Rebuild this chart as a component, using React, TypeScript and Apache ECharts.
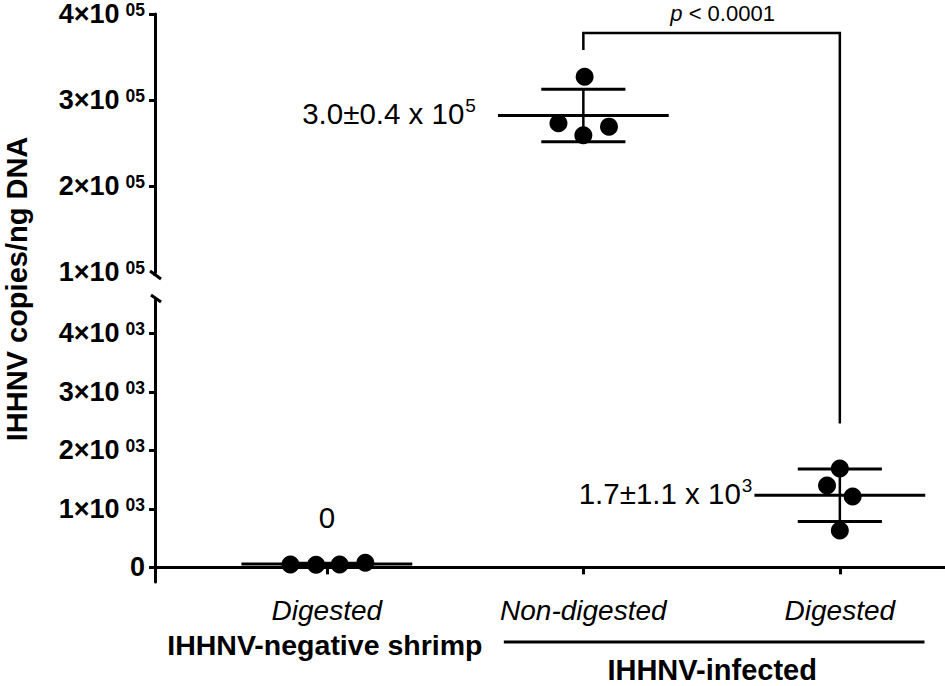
import React, { useEffect, useRef } from "react";
import * as echarts from "echarts";

// ---------- data ----------
const categories = ["Digested", "Non-digested", "Digested"];
const groupTitles = ["IHHNV-negative shrimp", "IHHNV-infected"];
const yAxisTitle = "IHHNV copies/ng DNA";

// IHHNV copies/ng DNA, one value per shrimp
const negDigested = [50, 45, 50, 80];
const infNonDigested = [327000, 273000, 259000, 269000];
const infDigested = [1690, 1400, 1210, 630];

// horizontal scatter of each dot, in category units
const negJitter = [-0.142, -0.042, 0.05, 0.15];
const nonDigJitter = [0.005, -0.097, 0, 0.1];
const digJitter = [0, -0.05, 0.05, 0];

const upperTicks = [100000, 200000, 300000, 400000];
const lowerTicks = [0, 1000, 2000, 3000, 4000];

const annotations = ["0", "3.0±0.4 x 10{s|5}", "1.7±1.1 x 10{s|3}"];
const pValueText = "{i|p} < 0.0001";

// bracket anchors (axis values)
const bracketTopValue = 378000;
const bracketLeftEndValue = 358000;
const bracketRightEndValue = 2460;

// ---------- style ----------
const FONT = "'Liberation Sans', Arial, Helvetica, sans-serif";
const BLACK = "#000";

const groups = [negDigested, infNonDigested, infDigested];
const groupAxis = [1, 0, 1];

function stats(arr: number[]) {
  const n = arr.length;
  const mean = arr.reduce((a, b) => a + b, 0) / n;
  const v = arr.reduce((a, b) => a + (b - mean) * (b - mean), 0) / (n - 1);
  return { mean, sd: Math.sqrt(v) };
}

function tickFmt(v: number) {
  if (v === 0) return "{m|0}";
  const e = Math.floor(Math.log10(v) + 1e-9);
  const m = Math.round(v / Math.pow(10, e));
  return `{m|${m}×10}{s|${String(e).padStart(2, "0")}}`;
}

const tickRich = {
  m: { fontSize: 27, lineHeight: 26, fontWeight: "bold", fontFamily: FONT, color: BLACK },
  s: { fontSize: 17.5, fontWeight: "bold", fontFamily: FONT, color: BLACK, padding: [0, 0, 8, 6] },
};

const X_MIN = 0.33;
const X_MAX = 3.41;
const LOWER_MIN = -250;
const LOWER_MAX = 4570;

function makeStatsRenderer(gi: number) {
  return (params: any, api: any) => {
    const { mean, sd } = stats(groups[gi]);
    const cx = gi + 1;
    const [mx1, my] = api.coord([cx - 0.333, mean]);
    const [mx2] = api.coord([cx + 0.333, mean]);
    const [c1, ty] = api.coord([cx - 0.164, mean + sd]);
    const [c2, by] = api.coord([cx + 0.164, mean - sd]);
    const [vx] = api.coord([cx, mean]);
    const st = { stroke: BLACK, lineWidth: 3 };
    const children: any[] = [
      { type: "line", shape: { x1: mx1, y1: my, x2: mx2, y2: my }, style: st },
      { type: "line", shape: { x1: c1, y1: ty, x2: c2, y2: ty }, style: st },
      { type: "line", shape: { x1: c1, y1: by, x2: c2, y2: by }, style: st },
      { type: "line", shape: { x1: vx, y1: ty, x2: vx, y2: by }, style: { stroke: BLACK, lineWidth: 2.5 } },
    ];
    const textStyleBase: any = {
      fill: BLACK,
      fontSize: 29.5,
      fontFamily: FONT,
      rich: { s: { fontSize: 19, fontFamily: FONT, fill: BLACK, color: BLACK, padding: [0, 0, 15, 1] } },
    };
    if (gi === 0) {
      children.push({
        type: "text",
        x: vx,
        y: my - 47,
        style: { ...textStyleBase, text: annotations[gi], align: "center", textAlign: "center", verticalAlign: "middle", textVerticalAlign: "middle" },
      });
    } else {
      const gap = gi === 1 ? 22 : 2;
      children.push({
        type: "text",
        x: mx1 - gap,
        y: my - 2,
        style: { ...textStyleBase, text: annotations[gi], align: "right", textAlign: "right", verticalAlign: "middle", textVerticalAlign: "middle" },
      });
    }
    return { type: "group", children };
  };
}

const jitters = [negJitter, nonDigJitter, digJitter];

export default function App() {
  const ref = useRef<HTMLDivElement>(null);
  useEffect(() => {
    const chart = echarts.init(ref.current!, null, { renderer: "svg" });
    const axisLine = { show: true, lineStyle: { color: BLACK, width: 3 } };
    const option: any = {
      animation: false,
      backgroundColor: "#fff",
      grid: [
        { left: 155, right: 0, top: 14, height: 258, outerBoundsMode: "none", containLabel: false },
        { left: 155, right: 0, top: 300, height: 282, outerBoundsMode: "none", containLabel: false },
      ],
      xAxis: [
        { type: "value", gridIndex: 0, min: X_MIN, max: X_MAX, show: false },
        {
          type: "value",
          gridIndex: 1,
          min: X_MIN,
          max: X_MAX,
          axisLine,
          splitLine: { show: false },
          axisTick: { show: true, customValues: [1, 2, 3], length: 7, lineStyle: { color: BLACK, width: 3 } },
          axisLabel: {
            customValues: [1, 2, 3],
            formatter: (v: number) => categories[Math.round(v) - 1] || "",
            fontStyle: "italic",
            fontSize: 28,
            fontFamily: FONT,
            color: BLACK,
            margin: 14,
          },
        },
      ],
      yAxis: [
        {
          type: "value",
          gridIndex: 0,
          min: upperTicks[0],
          max: upperTicks[upperTicks.length - 1],
          axisLine,
          splitLine: { show: false },
          axisTick: { show: true, customValues: upperTicks.slice(1), length: 6, lineStyle: { color: BLACK, width: 3 } },
          axisLabel: { customValues: upperTicks, formatter: tickFmt, rich: tickRich, margin: 10 },
        },
        {
          type: "value",
          gridIndex: 1,
          min: LOWER_MIN,
          max: LOWER_MAX,
          axisLine,
          splitLine: { show: false },
          axisTick: { show: true, customValues: lowerTicks, length: 6, lineStyle: { color: BLACK, width: 3 } },
          axisLabel: { customValues: lowerTicks, formatter: tickFmt, rich: tickRich, margin: 10 },
        },
      ],
      series: [
        ...groups.map((vals, gi) => ({
          type: "custom",
          xAxisIndex: groupAxis[gi],
          yAxisIndex: groupAxis[gi],
          renderItem: makeStatsRenderer(gi),
          data: [[gi + 1, stats(vals).mean]],
          encode: { x: 0, y: 1 },
          silent: true,
          z: 2,
        })),
        ...groups.map((vals, gi) => ({
          type: "scatter",
          xAxisIndex: groupAxis[gi],
          yAxisIndex: groupAxis[gi],
          symbol: "circle",
          symbolSize: 18,
          itemStyle: { color: BLACK, opacity: 1 },
          data: vals.map((v, i) => [gi + 1 + jitters[gi][i], v]),
          z: 3,
        })),
      ],
    };
    chart.setOption(option);

    const up = (x: number, y: number) => chart.convertToPixel({ xAxisIndex: 0, yAxisIndex: 0 } as any, [x, y]) as number[];
    const lo = (x: number, y: number) => chart.convertToPixel({ xAxisIndex: 1, yAxisIndex: 1 } as any, [x, y]) as number[];

    const [axX, upBottom] = up(X_MIN, upperTicks[0]);
    const [, loTop] = lo(X_MIN, LOWER_MAX);
    const [, xAxisY] = lo(X_MIN, LOWER_MIN);
    const [b2x, bTop] = up(2, bracketTopValue);
    const [, bLeftEnd] = up(2, bracketLeftEndValue);
    const [b3x, bRightEnd] = lo(3, bracketRightEndValue);
    const [c1x] = lo(1, 0);
    const [lineX1] = lo(1.69, 0);
    const [lineX2] = lo(3.33, 0);

    const thick = { stroke: BLACK, lineWidth: 3 };
    chart.setOption({
      graphic: {
        elements: [
          {
            type: "text",
            x: 17,
            y: 289,
            rotation: Math.PI / 2,
            style: {
              text: yAxisTitle,
              fill: BLACK,
              fontSize: 29,
              fontWeight: "bold",
              fontFamily: FONT,
              align: "center",
              textAlign: "center",
              verticalAlign: "middle",
              textVerticalAlign: "middle",
            },
          },
          { type: "line", shape: { x1: axX - 5, y1: upBottom - 1, x2: axX + 6, y2: upBottom + 7 }, style: thick },
          { type: "line", shape: { x1: axX, y1: upBottom, x2: axX, y2: upBottom + 4 }, style: thick },
          { type: "line", shape: { x1: axX - 4, y1: loTop - 5, x2: axX + 6, y2: loTop + 2 }, style: thick },
          {
            type: "polyline",
            shape: { points: [[b2x, bLeftEnd], [b2x, bTop], [b3x, bTop], [b3x, bRightEnd]] },
            style: { stroke: BLACK, lineWidth: 2.5, fill: null },
          },
          {
            type: "text",
            x: (b2x + b3x) / 2 + 11,
            y: bTop - 19,
            style: {
              text: pValueText,
              fill: BLACK,
              fontSize: 22,
              fontFamily: FONT,
              align: "center",
              textAlign: "center",
              verticalAlign: "middle",
              textVerticalAlign: "middle",
              rich: { i: { fontSize: 22, fontStyle: "italic", fontFamily: FONT, fill: BLACK, color: BLACK } },
            },
          },
          {
            type: "text",
            x: c1x - 2,
            y: xAxisY + 63,
            style: {
              text: groupTitles[0],
              fill: BLACK,
              fontSize: 28.5,
              fontWeight: "bold",
              fontFamily: FONT,
              align: "center",
              textAlign: "center",
              verticalAlign: "middle",
              textVerticalAlign: "middle",
            },
          },
          { type: "line", shape: { x1: lineX1, y1: xAxisY + 60, x2: lineX2, y2: xAxisY + 60 }, style: thick },
          {
            type: "text",
            x: (lineX1 + lineX2) / 2 - 2,
            y: xAxisY + 88,
            style: {
              text: groupTitles[1],
              fill: BLACK,
              fontSize: 29,
              fontWeight: "bold",
              fontFamily: FONT,
              align: "center",
              textAlign: "center",
              verticalAlign: "middle",
              textVerticalAlign: "middle",
            },
          },
        ],
      },
    });
    return () => chart.dispose();
  }, []);
  return <div ref={ref} style={{ position: "fixed", left: 0, top: 0, width: 945, height: 686 }} />;
}
